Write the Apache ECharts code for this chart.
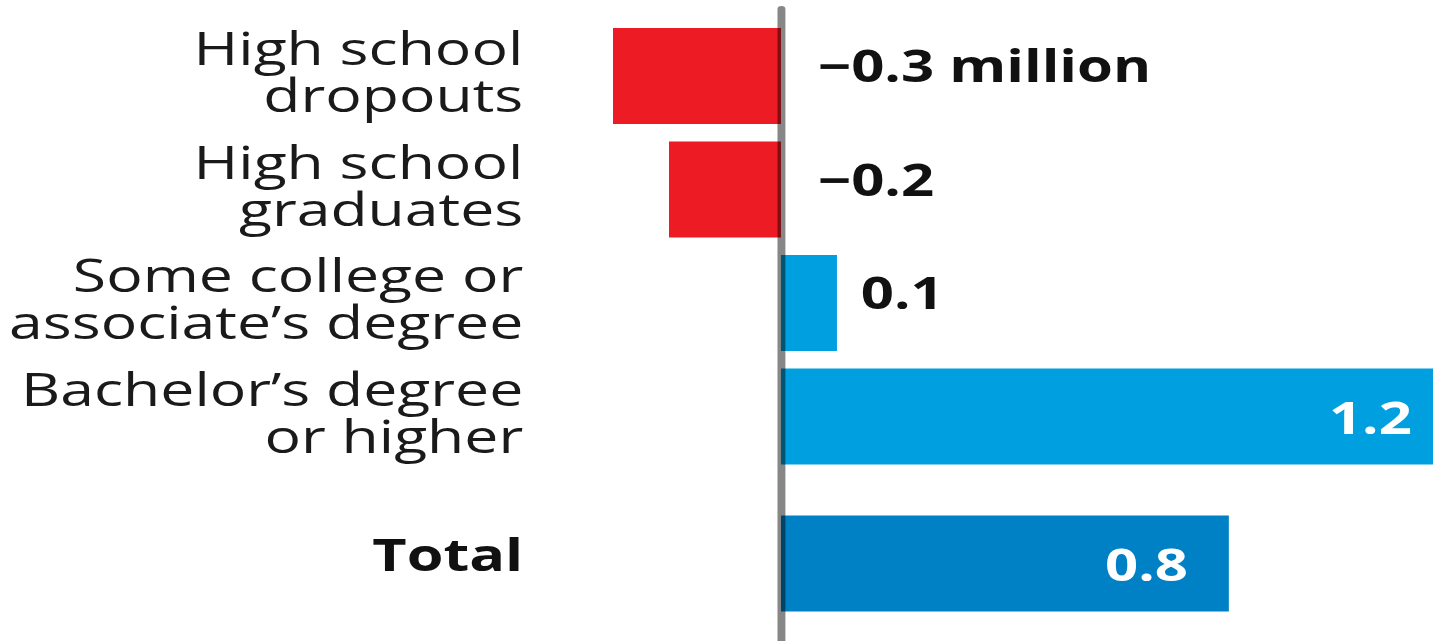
<!DOCTYPE html>
<html>
<head>
<meta charset="utf-8">
<title>Change in jobs by education</title>
<script src="https://cdn.jsdelivr.net/npm/echarts@6/dist/echarts.min.js"></script>
<style>
  html, body { margin: 0; padding: 0; background: #ffffff; overflow: hidden; }
  #frame { width: 1433px; height: 641px; overflow: hidden; position: relative; }
  #chart { height: 641px; transform-origin: 0 0; }
</style>
</head>
<body>
<div id="frame"><div id="chart"></div></div>
<script>
// Net change in jobs, millions, by education level
const categories = [
  'High school\ndropouts',
  'High school\ngraduates',
  'Some college or\nassociate\u2019s degree',
  'Bachelor\u2019s degree\nor higher'
];
const changes = [-0.3, -0.2, 0.1, 1.2];
const totalCategory = ['Total'];
const totalChange = [0.8];
const valueSuffix = [' million', '', '', ''];

// The chart is laid out on a narrower canvas and widened horizontally
const SX = 1.32;
const W = 1433 / SX;
const chartEl = document.getElementById('chart');
chartEl.style.width = W + 'px';
chartEl.style.transform = 'scaleX(' + SX + ')';

const RED = '#ED1C24';
const BLUE = '#009FDF';
const DARK_BLUE = '#0081C5';
const FONT = '"Open Sans", "Noto Sans", sans-serif';

const gridLeft = 464.4;
const gridRight = -15;

function fmt(v) {
  return (v < 0 ? '\u2212' : '') + Math.abs(v).toFixed(1);
}

function barLabel(v, inside) {
  if (inside) {
    return {
      show: true, position: 'insideRight', distance: 31,
      color: '#ffffff', fontFamily: FONT, fontWeight: 'bold', fontSize: 44
    };
  }
  return {
    show: true, position: 'right', distance: v < 0 ? 28 : 18,
    offset: [0, -11],
    color: '#111111', fontFamily: FONT, fontWeight: 'bold', fontSize: 44
  };
}

const mainData = changes.map(function (v) {
  return {
    value: v,
    itemStyle: { color: v < 0 ? RED : BLUE },
    label: barLabel(v, v >= 0.5)
  };
});
const totalData = totalChange.map(function (v) {
  return { value: v, itemStyle: { color: DARK_BLUE }, label: barLabel(v, v >= 0.5) };
});

const valueAxis = function (gridIndex) {
  return {
    type: 'value', gridIndex: gridIndex, min: -0.3, max: 1.2,
    show: false, splitLine: { show: false }
  };
};

// an empty trailing line lifts each label block slightly above its bar centre
function categoryAxisLabel(gap, extra) {
  return Object.assign({
    color: '#1a1a1a', fontFamily: FONT, fontSize: 46, lineHeight: 47,
    margin: 68, align: 'right', interval: 0, hideOverlap: false,
    formatter: function (v) { return v + '\n{gap|}'; },
    rich: { gap: { lineHeight: gap, fontSize: 1 } }
  }, extra || {});
}

const gridBox = function (top, bottom) {
  return { left: gridLeft, right: gridRight, top: top, bottom: bottom, outerBoundsMode: 'none', containLabel: false };
};

const chart = echarts.init(chartEl, null, { renderer: 'svg', width: W, height: 641 });
chart.setOption({
  animation: false,
  backgroundColor: '#ffffff',
  grid: [
    gridBox(19.25, 167.75),
    gridBox(506.75, 20.75),
    gridBox(9, 0)
  ],
  xAxis: [valueAxis(0), valueAxis(1), valueAxis(2)],
  yAxis: [
    {
      type: 'category', gridIndex: 0, data: categories, inverse: true,
      axisLine: { show: false, onZero: false }, axisTick: { show: false },
      axisLabel: categoryAxisLabel(10)
    },
    {
      type: 'category', gridIndex: 1, data: totalCategory, inverse: true,
      axisLine: { show: false, onZero: false }, axisTick: { show: false },
      axisLabel: categoryAxisLabel(20, { fontWeight: 'bold', fontSize: 45, color: '#111111' })
    },
    {
      // zero baseline running the full height
      type: 'category', gridIndex: 2, data: [''], z: 10,
      axisLine: { show: true, onZero: true, lineStyle: { color: 'rgba(0,0,0,0.47)', width: 6 } },
      axisTick: { show: false }, axisLabel: { show: false }
    }
  ],
  series: [
    {
      type: 'bar', xAxisIndex: 0, yAxisIndex: 0, barWidth: 96,
      data: mainData,
      label: {
        formatter: function (p) { return fmt(p.value) + valueSuffix[p.dataIndex]; }
      }
    },
    {
      type: 'bar', xAxisIndex: 1, yAxisIndex: 1, barWidth: 96,
      data: totalData,
      label: {
        formatter: function (p) { return fmt(p.value); }
      }
    }
  ]
});
</script>
</body>
</html>
